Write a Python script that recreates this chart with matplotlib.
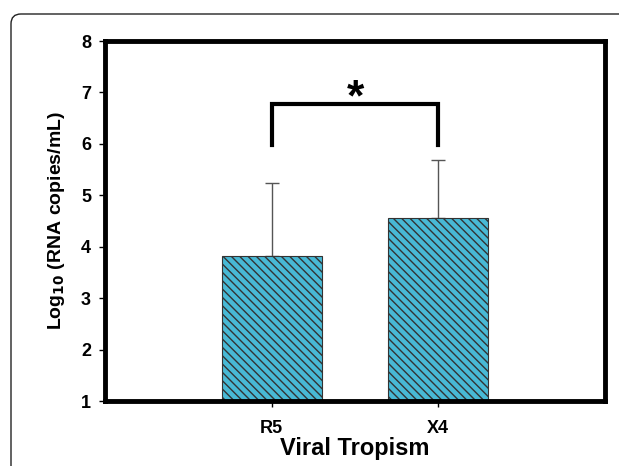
import matplotlib.pyplot as plt
from matplotlib.patches import FancyBboxPatch

# 데이터
groups = ['R5', 'X4']
means = [3.82, 4.56]
errors = [1.42, 1.13]
bracket_low = 5.98
bracket_top = 6.78
star_y = 6.88

plt.rcParams['font.family'] = ['Liberation Sans', 'DejaVu Sans']
plt.rcParams['hatch.linewidth'] = 1.0

fig = plt.figure(figsize=(6.19, 4.66), dpi=100)

# 바깥 둥근 테두리
frame = FancyBboxPatch((11 / 619, -0.2), 1.2, 1.2 - 14 / 466,
                       boxstyle='round,pad=0,rounding_size=0.016',
                       mutation_aspect=619 / 466,
                       transform=fig.transFigure, fill=False,
                       edgecolor='#222222', linewidth=1.0)
fig.patches.append(frame)

ax = fig.add_axes([105 / 619, 1 - 401 / 466, 500 / 619, 360 / 466])

x = list(range(len(groups)))
ax.bar(x, means, width=0.6, bottom=0, color='#48b9d5', edgecolor='#333333',
       hatch='\\\\\\\\', linewidth=0.8, zorder=2)
ax.errorbar(x, means, yerr=[[0] * len(errors), errors], fmt='none',
            ecolor='#555555', elinewidth=1.0, capsize=5, capthick=1.0, zorder=1)

# 유의성 표시
ax.plot([x[0], x[0], x[1], x[1]], [bracket_low, bracket_top, bracket_top, bracket_low],
        color='black', linewidth=3, solid_joinstyle='miter', zorder=3)
ax.text((x[0] + x[1]) / 2, star_y, '*', ha='center', va='center',
        fontsize=32, fontweight='bold')

ax.set_xlim(-1, 2)
ax.set_ylim(1, 8)
ax.set_xticks(x)
ax.set_xticklabels(groups, fontsize=13, fontweight='bold')
ax.set_yticks(range(1, 9))
ax.tick_params(axis='y', labelsize=13, width=1, length=4, pad=6)
for lbl in ax.get_yticklabels():
    lbl.set_fontweight('bold')
ax.tick_params(axis='x', width=1, length=4, pad=10)

for s in ax.spines.values():
    s.set_linewidth(3.5)

ax.set_ylabel('Log$_{\\mathbf{10}}$ (RNA copies/mL)', fontsize=14, fontweight='bold', labelpad=10)
ax.set_xlabel('Viral Tropism', fontsize=17, fontweight='bold', labelpad=0)

plt.savefig('out.png', dpi=100)
